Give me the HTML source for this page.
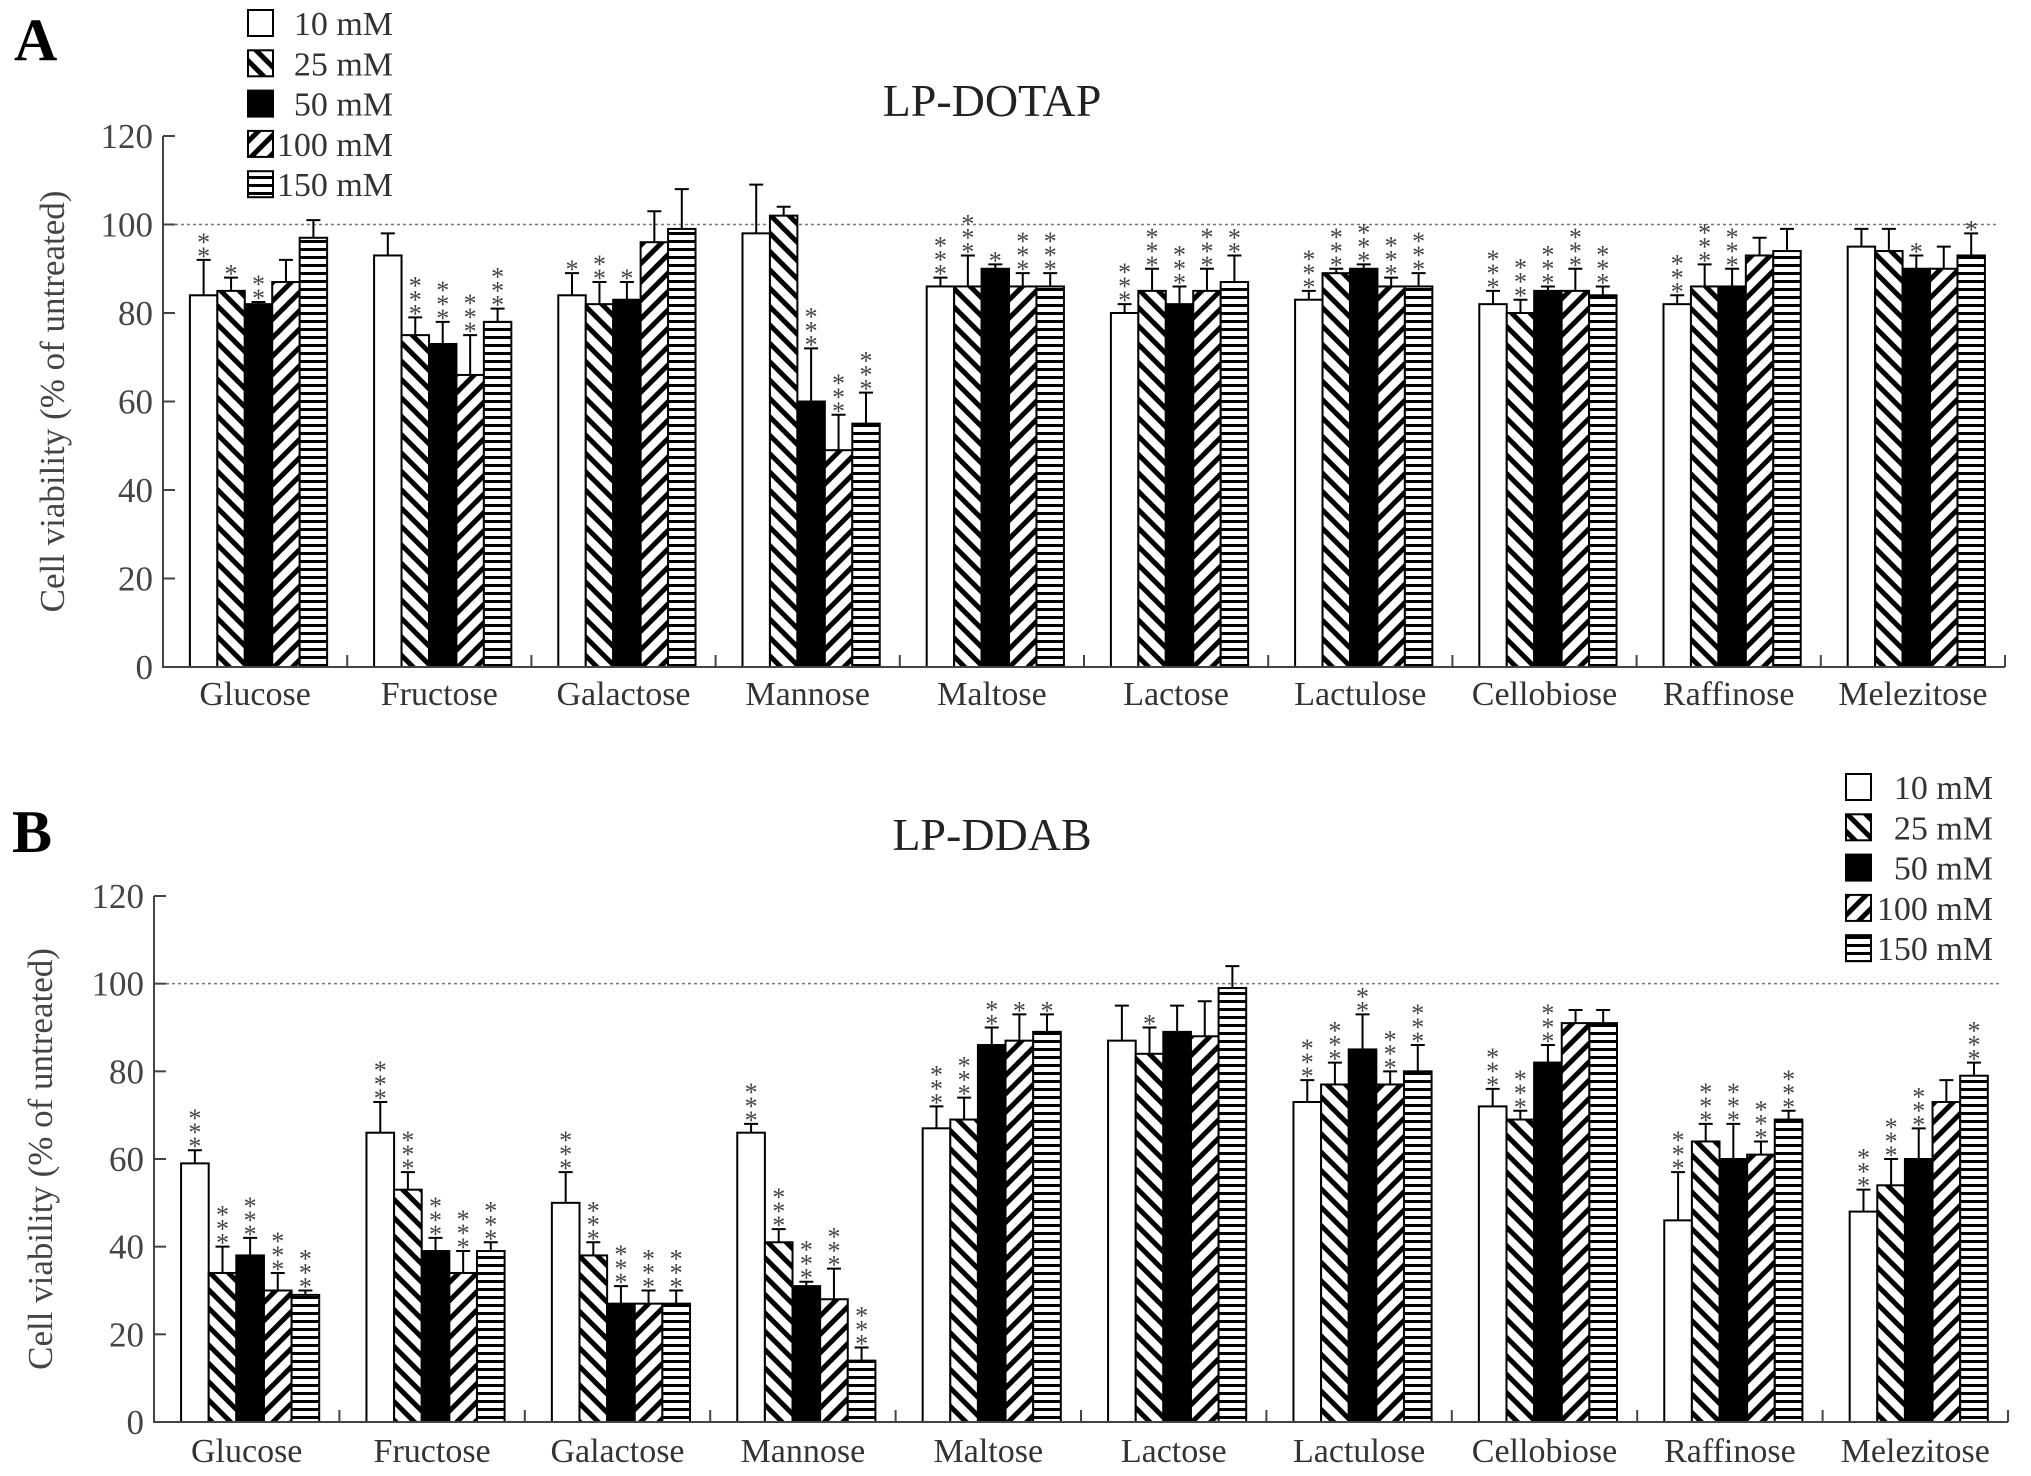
<!DOCTYPE html>
<html><head><meta charset="utf-8"><style>
html,body{margin:0;padding:0;background:#fff;}
svg{display:block;font-family:"Liberation Serif",serif;}
</style></head><body>
<svg id="fig" width="2031" height="1476" viewBox="0 0 2031 1476" xmlns="http://www.w3.org/2000/svg">
<defs>
<pattern id="pBack" patternUnits="userSpaceOnUse" width="13" height="13" patternTransform="rotate(-45)"><rect width="13" height="13" fill="#fff"/><rect x="0" y="0" width="5" height="13" fill="#000"/></pattern>
<pattern id="pFwd" patternUnits="userSpaceOnUse" width="13" height="13" patternTransform="rotate(45)"><rect width="13" height="13" fill="#fff"/><rect x="0" y="0" width="5" height="13" fill="#000"/></pattern>
<pattern id="pHor" patternUnits="userSpaceOnUse" width="10" height="8"><rect width="10" height="8" fill="#fff"/><rect x="0" y="0" width="10" height="3" fill="#000"/></pattern>
</defs>
<g id="root"></g>
</svg>
<script>
const categories = ["Glucose","Fructose","Galactose","Mannose","Maltose","Lactose","Lactulose","Cellobiose","Raffinose","Melezitose"];
const seriesNames = ["10 mM","25 mM","50 mM","100 mM","150 mM"];
const yTicks = [0,20,40,60,80,100,120];
// Panel A (LP-DOTAP) values per series, in category order
const aMeans10 = [84,93,84,98,86,80,83,82,82,95];
const aMeans25 = [85,75,82,102,86,85,89,80,86,94];
const aMeans50 = [82,73,83,60,90,82,90,85,86,90];
const aMeans100 = [87,66,96,49,86,85,86,85,93,90];
const aMeans150 = [97,78,99,55,86,87,86,84,94,93];
const aErr10 = [92,98,89,109,88,82,85,85,84,99];
const aErr25 = [88,79,87,104,93,90,90,83,91,99];
const aErr50 = [82.5,78,87,72,91,86,91,86,90,93];
const aErr100 = [92,75,103,57,89,90,88,90,97,95];
const aErr150 = [101,81,108,62,89,93,89,86,99,98];
const aStars10 = [2,0,1,0,3,3,3,3,3,0];
const aStars25 = [1,3,2,0,3,3,3,3,3,0];
const aStars50 = [2,3,1,3,1,3,3,3,3,1];
const aStars100 = [0,3,0,3,3,3,3,3,0,0];
const aStars150 = [0,3,0,3,3,2,3,3,0,1];
// Panel B (LP-DDAB)
const bMeans10 = [59,66,50,66,67,87,73,72,46,48];
const bMeans25 = [34,53,38,41,69,84,77,69,64,54];
const bMeans50 = [38,39,27,31,86,89,85,82,60,60];
const bMeans100 = [30,34,27,28,87,88,77,91,61,73];
const bMeans150 = [29,39,27,14,89,99,80,91,69,79];
const bErr10 = [62,73,57,68,72,95,78,76,57,53];
const bErr25 = [40,57,41,44,74,90,82,71,68,60];
const bErr50 = [42,42,31,32,90,95,93,86,68,67];
const bErr100 = [34,39,30,35,93,96,80,94,64,78];
const bErr150 = [30,41,30,17,93,104,86,94,71,82];
const bStars10 = [3,3,3,3,3,0,3,3,3,3];
const bStars25 = [3,3,3,3,3,1,3,3,3,3];
const bStars50 = [3,3,3,3,2,0,2,3,3,3];
const bStars100 = [3,3,3,3,1,0,3,0,3,0];
const bStars150 = [3,3,3,3,1,0,3,0,3,3];

const fills = ["#fff","url(#pBack)","#000","url(#pFwd)","url(#pHor)"];
const seriesKeys = ["10mm","25mm","50mm","100mm","150mm"];
const NS = "http://www.w3.org/2000/svg";
const root = document.getElementById("root");
function mk(tag, attrs, parent){const e=document.createElementNS(NS,tag);for(const k in attrs)e.setAttribute(k,attrs[k]);(parent||root).appendChild(e);return e;}

function drawPanel(p){
  const g = mk("g",{});
  
  
  const y = v => p.y0 - (v/120)*(p.y0-p.y120);
  const gw = (p.xEnd - p.ax)/categories.length;
  const bw = gw*0.149, off = gw*0.146;
  const dl = mk("line",{x1:p.ax,x2:p.xEnd-8,y1:y(100),y2:y(100),stroke:"#777","stroke-width":1.5,"stroke-dasharray":"3,3"},g);
  
  
  for(let s=0;s<5;s++){
    for(let c=0;c<categories.length;c++){
      const x = p.ax + c*gw + off + s*bw;
      const v = p.means[s][c], e = p.errs[s][c];
      const r = mk("rect",{x:x,y:y(v),width:bw,height:p.y0-y(v),fill:fills[s],stroke:"#000","stroke-width":2},g);
      
      
      const cx = x+bw/2;
      if(e>v){
        const el = mk("path",{d:`M${cx},${y(v)}V${y(e)}M${cx-7},${y(e)}H${cx+7}`,stroke:"#000","stroke-width":2,fill:"none"},g);
        
        
      }
      const n = p.stars[s][c];
      for(let k=0;k<n;k++){
        const t = mk("text",{x:cx,y:y(Math.max(e,v))-k*14+5,"text-anchor":"middle","font-size":26,fill:"#444"},g);
        t.textContent="*";
        
        
      }
    }
  }
  const ax = mk("path",{d:`M${p.ax},${y(120)}V${p.y0}H${p.xEnd}`,stroke:"#444","stroke-width":2,fill:"none"},g);
  
  
  yTicks.forEach(t=>{
    mk("line",{x1:p.ax,x2:p.ax+12,y1:y(t),y2:y(t),stroke:"#444","stroke-width":2},g);
    const tl = mk("text",{x:p.ax-10,y:y(t)+12,"text-anchor":"end","font-size":35,fill:"#444"},g);
    tl.textContent=t;
    
    
  });
  for(let c=1;c<=categories.length;c++){
    mk("line",{x1:p.ax+c*gw,x2:p.ax+c*gw,y1:p.y0,y2:p.y0-12,stroke:"#444","stroke-width":2},g);
  }
  categories.forEach((cat,c)=>{
    const t = mk("text",{x:p.ax+c*gw+gw/2,y:p.labelY,"text-anchor":"middle","font-size":34,fill:"#333"},g);
    t.textContent=cat;
    
    
  });
  const yt = mk("text",{x:0,y:0,"text-anchor":"middle","font-size":35,fill:"#444",transform:`translate(${p.ytX},${(p.y0+y(120))/2}) rotate(-90)`},g);
  yt.textContent="Cell viability (% of untreated)";
  
  
  const ti = mk("text",{x:992,y:p.titleY,"text-anchor":"middle","font-size":46,fill:"#222"},g);
  ti.textContent=p.title;
  
  
  const pl = mk("text",{x:p.plX,y:p.plY,"font-size":60,"font-weight":"bold",fill:"#000"},g);
  pl.textContent=p.label;
  
  
  for(let s=0;s<5;s++){
    const ly = p.legY + s*40.3;
    const b = mk("rect",{x:p.legX,y:ly-13,width:25,height:26,fill:fills[s],stroke:"#000","stroke-width":2},g);
    
    
    const lt = mk("text",{x:p.legTextEnd,y:ly+12,"text-anchor":"end","font-size":34,fill:"#333"},g);
    lt.textContent=seriesNames[s];
    
    
  }
}
drawPanel({name:"panel-a-lp-dotap",title:"LP-DOTAP",label:"A",plX:14,plY:60,ax:163,xEnd:2005,y0:667,y120:136,labelY:705,ytX:64,titleY:116,
  legX:248,legTextEnd:393,legY:23,
  means:[aMeans10,aMeans25,aMeans50,aMeans100,aMeans150],errs:[aErr10,aErr25,aErr50,aErr100,aErr150],stars:[aStars10,aStars25,aStars50,aStars100,aStars150]});
drawPanel({name:"panel-b-lp-ddab",title:"LP-DDAB",label:"B",plX:12,plY:852,ax:154,xEnd:2008,y0:1422,y120:896,labelY:1462,ytX:52,titleY:850,
  legX:1846,legTextEnd:1993,legY:787,
  means:[bMeans10,bMeans25,bMeans50,bMeans100,bMeans150],errs:[bErr10,bErr25,bErr50,bErr100,bErr150],stars:[bStars10,bStars25,bStars50,bStars100,bStars150]});
</script>
</body></html>
